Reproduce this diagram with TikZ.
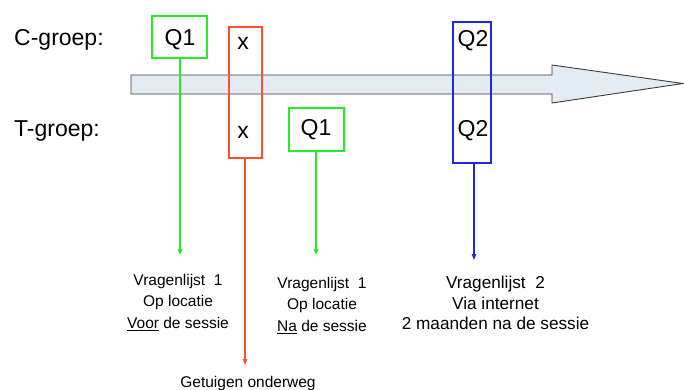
\documentclass[tikz,border=0pt]{standalone}
\usepackage{fontspec}
\setmainfont{Liberation Sans}
\usetikzlibrary{arrows.meta}
\definecolor{cgreen}{RGB}{40,235,40}
\definecolor{cred}{RGB}{250,80,45}
\definecolor{cblue}{RGB}{35,35,235}
\definecolor{afill}{RGB}{227,235,245}
\definecolor{aline}{RGB}{60,60,60}
\begin{document}
\begin{tikzpicture}[x=1pt,y=-1pt,
  box/.style={draw,line width=1.4pt,rectangle,inner sep=0pt},
  big/.style={font=\fontsize{23}{26}\selectfont,inner sep=0pt},
  note/.style={font=\fontsize{15.5}{21.5}\selectfont,align=center,inner sep=0pt},
  conn/.style={line width=1.4pt,-{Triangle[length=6pt,width=4.5pt]}}]
\useasboundingbox (0,0) rectangle (684,390);
% time arrow
\draw[aline,fill=afill,line width=0.9pt] (131,75) -- (552,75) -- (552,65) -- (683,83.5) -- (552,103) -- (552,94) -- (131,94) -- cycle;
% group labels
\node[big,anchor=west] (cg) at (14,40) {C-groep:};
\node[big,anchor=west] (tg) at (14,131) {T-groep:};
% boxes
\node[box,cgreen,minimum width=55pt,minimum height=42pt] (cq1) at (179.5,37) {};
\node[box,cred,minimum width=33pt,minimum height=131pt] (rx) at (245.5,92.5) {};
\node[box,cblue,minimum width=38pt,minimum height=141pt] (bq2) at (472,92.5) {};
\node[box,cgreen,minimum width=55pt,minimum height=43pt] (tq1) at (316.5,129.5) {};
% box texts
\node[big] (cq1t) at (180,40) {Q1};
\node[big] (cxt) at (243,43) {x};
\node[big] (cq2t) at (473,40.5) {Q2};
\node[big] (txt) at (243,132) {x};
\node[big] (tq1t) at (316,130) {Q1};
\node[big] (tq2t) at (473,131) {Q2};
% end points
\coordinate (e1) at (180,255);
\coordinate (e2) at (245,365);
\coordinate (e3) at (316,255);
\coordinate (e4) at (474,260);
% connectors
\draw[conn,cgreen] (cq1.south -| e1) -- (e1);
\draw[conn,cred] (rx.south -| e2) -- (e2);
\draw[conn,cgreen] (tq1.south -| e3) -- (e3);
\draw[conn,cblue] (bq2.south -| e4) -- (e4);
% notes
\node[note,anchor=north] (n1) at (178,274) {Vragenlijst\ \ 1\\Op locatie\\\underline{Voor} de sessie};
\node[note,anchor=north] (n2) at (322,277) {Vragenlijst\ \ 1\\Op locatie\\\underline{Na} de sessie};
\node[note,anchor=north,font=\fontsize{17.2}{20.5}\selectfont] (n3) at (495.5,276) {Vragenlijst\ \ 2\\Via internet\\2 maanden na de sessie};
\node[note,anchor=north] (n4) at (248,376) {Getuigen onderweg};
\end{tikzpicture}
\end{document}
